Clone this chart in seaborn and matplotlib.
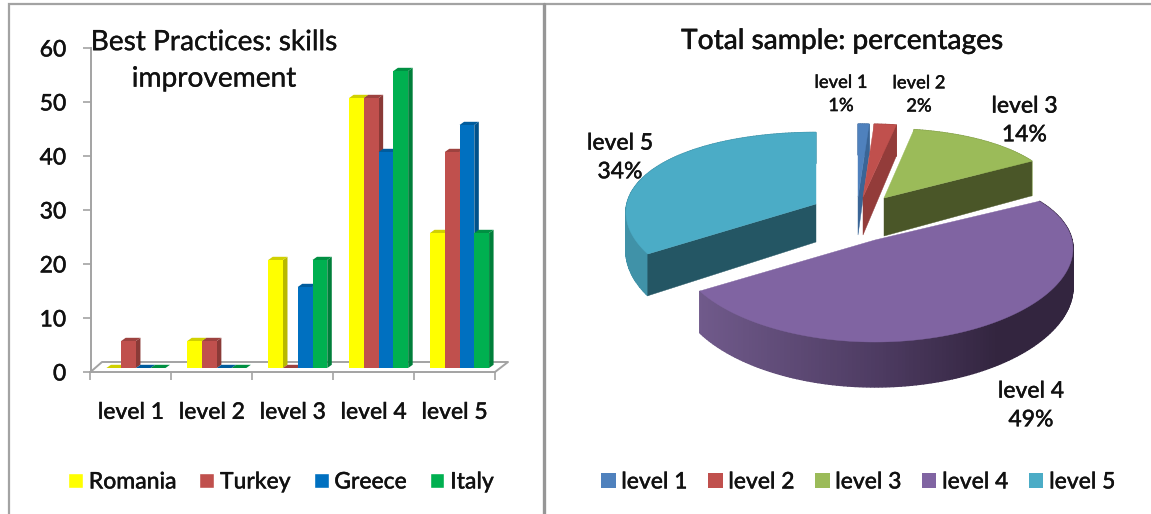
import numpy as np
import pandas as pd
import matplotlib
matplotlib.use("Agg")
import matplotlib.pyplot as plt
import matplotlib.patheffects as effects
from matplotlib.colors import to_rgb
from matplotlib.patches import Patch
from matplotlib.text import Text
from matplotlib.transforms import Affine2D
import seaborn as sns

levels = ["level 1", "level 2", "level 3", "level 4", "level 5"]
romania = [0, 5, 20, 50, 25]
turkey = [5, 5, 0, 50, 40]
greece = [0, 0, 15, 40, 45]
italy = [0, 0, 20, 55, 25]
countries = ["Romania", "Turkey", "Greece", "Italy"]
country_colors = ["#ffff00", "#c0504d", "#0070c0", "#00b050"]
y_ticks = [0, 10, 20, 30, 40, 50, 60]

sample_share = [1, 2, 14, 49, 34]
level_colors = ["#4f81bd", "#c0504d", "#9bbb59", "#8064a2", "#4bacc6"]
cut_colors = ["#3a6596", "#933c3a", "#4a5628", "#4d3b62", "#245664"]

W, H = 1151, 514
sns.set_theme(style="white")
plt.rcParams["font.family"] = ["Lato", "DejaVu Sans"]
plt.rcParams["font.weight"] = "medium"
INK = "#111111"
GREY = "#a3a3a3"
FONT = 16.5
TITLE_FONT = 20.2

fig = plt.figure(figsize=(W / 100, H / 100), dpi=100, facecolor="white")

# Pixel-addressed layer for the panel frame, the chart floor and the pie
canvas = fig.add_axes([0, 0, 1, 1], zorder=0)
canvas.set_xlim(0, W)
canvas.set_ylim(H, 0)
canvas.axis("off")
canvas.plot([8.8, 8.8, W], [H, 4, 4], color=GREY, lw=1.6, solid_joinstyle="miter")
canvas.plot([544.5, 544.5], [4, H], color="#969696", lw=2.4)
canvas.plot([90.5, 102, 508, 495], [372, 362, 362, 372], color=GREY, lw=1.4)

# ---- Clustered columns -------------------------------------------------
ax = fig.add_axes([90.5 / W, 1 - 372 / H, 404.5 / W, 324 / H], zorder=1)
ax.patch.set_alpha(0)
frame = pd.DataFrame({
    "level": levels * 4,
    "country": np.repeat(countries, 5),
    "value": romania + turkey + greece + italy,
})
sns.barplot(data=frame, x="level", y="value", hue="country", hue_order=countries,
            palette=country_colors, width=0.73, gap=0, saturation=1, ax=ax)
ax.set_xlim(-0.5, 4.5)
ax.set_ylim(0, 60)

# Columns stand a little behind the front edge and carry a side and a top face
shift = ax.transData + Affine2D().translate(5, 4)
depth_x, depth_y = 4.5 / 80.9, 3.2 / 5.4
for h, container in enumerate(ax.containers):
    base = np.array(to_rgb(country_colors[h]))
    for i, bar in enumerate(container):
        z = 10 + 10 * i + 2 * h
        x0, w, v = bar.get_x(), bar.get_width(), bar.get_height()
        bar.set_transform(shift)
        bar.set_zorder(z)
        bar.set_clip_on(False)
        bar.set_linewidth(0)
        ax.fill([x0 + w, x0 + w + depth_x, x0 + w + depth_x, x0 + w],
                [0, depth_y, v + depth_y, v], color=base * 0.72, lw=0,
                transform=shift, zorder=z - 1, clip_on=False)
        ax.fill([x0, x0 + depth_x, x0 + w + depth_x, x0 + w],
                [v, v + depth_y, v + depth_y, v], color=base * 0.82, lw=0,
                transform=shift, zorder=z - 1, clip_on=False)

for side in ("top", "right"):
    ax.spines[side].set_visible(False)
for side in ("left", "bottom"):
    ax.spines[side].set_color(GREY)
    ax.spines[side].set_linewidth(1.4)
ax.set_xlabel("")
ax.set_ylabel("")
ax.set_yticks(y_ticks)
ax.set_xticks(range(5))
ax.set_xticks(np.arange(-0.5, 5), minor=True)
ax.tick_params(axis="y", length=5.5, width=1.2, color=GREY, left=True, pad=12,
               labelsize=FONT, labelcolor=INK)
ax.tick_params(axis="x", which="major", length=0, pad=21.5, labelsize=FONT, labelcolor=INK)
ax.tick_params(axis="x", which="minor", length=5.5, width=1.2, color=GREY, bottom=True)
ax.set_title("Best Practices: skills\nimprovement", x=(214 - 90.5) / 404.5,
             y=1 - (95 - 48) / 324, fontsize=TITLE_FONT, color=INK, linespacing=1.5)

sns.move_legend(ax, "center", bbox_to_anchor=(281 / W, 1 - 482 / H),
                bbox_transform=fig.transFigure, ncol=4, title=None, frameon=False,
                fontsize=FONT, handlelength=0.65, handleheight=0.6,
                handletextpad=0.25, columnspacing=1.0, borderpad=0, borderaxespad=0)
for text in ax.get_legend().get_texts():
    text.set_color(INK)

# ---- Exploded pie seen from above --------------------------------------
apex_x = [858, 863, 884, 875, 816]
apex_y = [197, 197, 198, 240, 204]
reach = [1.0, 1.0, 0.90, 1.0, 0.96]
exposed_cut = [-1, -1, -1, None, 0]
RADIUS = 197


def project(theta, cx, cy, scale):
    """Tilted-disc projection; the far side of the disc is foreshortened."""
    c, s = np.cos(theta), np.sin(theta)
    px = cx + scale * RADIUS * c * (1 - 0.10 * s)
    py = cy - (0.5 + 0.5 * scale) * s * (87.5 - 14.5 * s)
    return px, py, 38 - 7 * s


edges = 90 - 3.6 * np.concatenate([[0], np.cumsum(sample_share)])
purple_left = np.array(to_rgb("#705a8b"))
purple_mid = np.array(to_rgb("#4c3a60"))
purple_right = np.array(to_rgb("#33253f"))

for k in (0, 1, 2, 4, 3):
    a0, a1 = np.radians(edges[k]), np.radians(edges[k + 1])
    thetas = np.linspace(a0, a1, max(int(abs(edges[k] - edges[k + 1])), 6))
    px, py, wall = project(thetas, apex_x[k], apex_y[k], reach[k])
    top_color = np.array(to_rgb(level_colors[k]))

    # outer wall
    for j in range(len(thetas) - 1):
        if k == 3:
            f = (px[j] - px.min()) / (px.max() - px.min())
            color = (purple_left + (purple_mid - purple_left) * f / 0.5 if f < 0.5
                     else purple_mid + (purple_right - purple_mid) * min((f - 0.5) / 0.3, 1))
        else:
            color = top_color * 0.85
        canvas.fill([px[j], px[j + 1], px[j + 1], px[j]],
                    [py[j], py[j + 1], py[j + 1] + wall[j + 1], py[j] + wall[j]],
                    color=color, lw=1.0, zorder=2 + k)

    # radial cut facing the viewer
    e = exposed_cut[k]
    if e is not None:
        canvas.fill([apex_x[k], px[e], px[e], apex_x[k]],
                    [apex_y[k], py[e], py[e] + wall[e], apex_y[k] + 38],
                    color=cut_colors[k], lw=0.3, zorder=2 + k)

    # top surface
    canvas.fill(np.r_[apex_x[k], px], np.r_[apex_y[k], py], color=level_colors[k],
                lw=0.3, zorder=2.5 + k)

label_sizes = [FONT * 0.8, FONT * 0.8, FONT, FONT, FONT]
label_spacing = [1.55, 1.55, 1.45, 1.45, 1.45]
label_x = [841, 919, 1024.5, 1031, 620]
label_y = [94.5, 95, 120.5, 405.5, 157.5]
for k, name in enumerate(levels):
    canvas.text(label_x[k], label_y[k], f"{name}\n{sample_share[k]}%", ha="center",
                va="center", fontsize=label_sizes[k], color=INK,
                linespacing=label_spacing[k], zorder=20)

canvas.text(842, 41, "Total sample: percentages", ha="center", va="center",
            fontsize=TITLE_FONT, color=INK, zorder=20)

canvas.legend(handles=[Patch(color=c, label=n, lw=0) for n, c in zip(levels, level_colors)],
              loc="center", bbox_to_anchor=(858 / W, 1 - 482 / H),
              bbox_transform=fig.transFigure, ncol=5, frameon=False, fontsize=FONT,
              handlelength=0.65, handleheight=0.6, handletextpad=0.25,
              columnspacing=0.88, borderpad=0, borderaxespad=0, labelcolor=INK)

# A hairline stroke gives the lettering its slightly heavier weight
for text in fig.findobj(Text):
    text.set_path_effects([effects.withStroke(linewidth=0.22, foreground=INK)])

fig.savefig("out.png", dpi=100, facecolor="white")
